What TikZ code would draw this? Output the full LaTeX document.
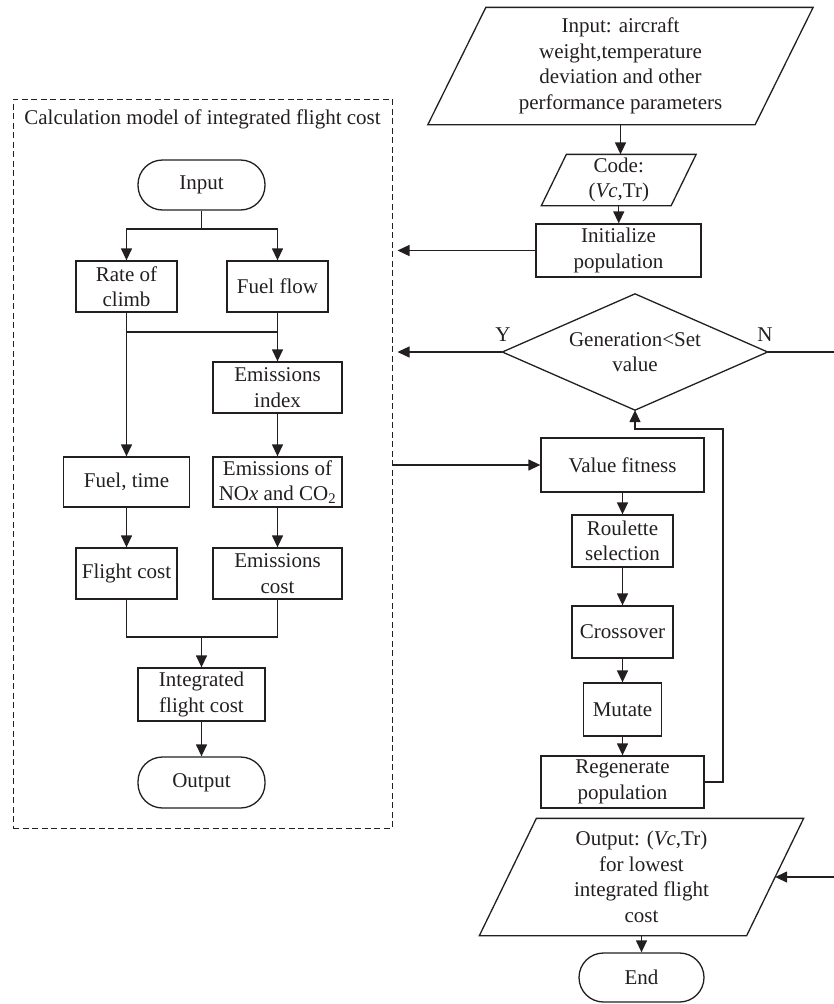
\documentclass[tikz,border=0pt]{standalone}
\usepackage{fontspec}
\setmainfont{Liberation Serif}
\usetikzlibrary{arrows.meta}
\definecolor{ink}{RGB}{35,31,32}
\tikzset{
  base/.style={draw=ink,line width=1.3pt,text=ink,align=center,inner sep=0pt,
    font=\fontsize{21}{25.5}\selectfont},
  box/.style={base,rectangle},
  term/.style={base,rectangle,rounded corners=24.5pt},
  para/.style={base,draw=none,rectangle},
  lbl/.style={text=ink,inner sep=0pt,font=\fontsize{21}{25.5}\selectfont},
  conn/.style={draw=ink,line width=1.3pt},
  arr/.style={conn,-{Triangle[length=12pt,width=11pt]}},
}
\newcommand{\parashape}[2]{%
  \draw[conn] ([xshift=#2]#1.north west) -- ([xshift=#2]#1.north east)
    -- ([xshift=-#2]#1.south east) -- ([xshift=-#2]#1.south west) -- cycle;}
\begin{document}
\begin{tikzpicture}[x=1pt,y=-1pt]
\useasboundingbox (0,0) rectangle (834,1004);

% ---------- left dashed block ----------
\node[draw=ink,line width=1pt,dash pattern=on 6pt off 3.5pt,rectangle,
      minimum width=379pt,minimum height=729pt,inner sep=0pt] (calc) at (202.5,463.5) {};
\node[lbl] (title) at (202.5,119) {Calculation model of integrated flight cost};

\node[term,minimum width=127pt,minimum height=50pt] (lin) at (201.5,185) {Input};
\node[box,minimum width=101pt,minimum height=51pt] (roc) at (126.5,286.5) {Rate of\\climb};
\node[box,minimum width=101pt,minimum height=51pt] (ff) at (277.5,286.5) {Fuel flow};
\node[box,minimum width=129pt,minimum height=51pt] (ei) at (277.5,387.5) {Emissions\\index};
\node[box,minimum width=126pt,minimum height=50pt] (ft) at (126.5,482) {Fuel, time};
\node[box,minimum width=129pt,minimum height=50pt] (em) at (277.5,482) {Emissions of\\NO{\itshape x} and CO\textsubscript{2}};
\node[box,minimum width=101pt,minimum height=51pt] (fc) at (126.5,573.5) {Flight cost};
\node[box,minimum width=129pt,minimum height=51pt] (ec) at (277.5,573.5) {Emissions\\cost};
\node[box,minimum width=127pt,minimum height=53pt] (ifc) at (201.5,694.5) {Integrated\\flight cost};
\node[term,minimum width=127pt,minimum height=51pt] (lout) at (201.5,782.5) {Output};

\coordinate (fork) at (201.5,229);
\coordinate (j1) at (201.5,332);
\coordinate (j2) at (201.5,637);

\draw[conn] (lin.south) -- (fork);
\draw[arr] (fork) -| (roc.north);
\draw[arr] (fork) -| (ff.north);
\draw[conn] (roc.south |- j1) -- (ff.south |- j1);
\draw[arr] (roc.south) -- (ft.north);
\draw[arr] (ff.south) -- (ei.north);
\draw[arr] (ei.south) -- (em.north);
\draw[arr] (ft.south) -- (fc.north);
\draw[arr] (em.south) -- (ec.north);
\draw[conn] (fc.south) |- (j2) -| (ec.south);
\draw[arr] (j2) -- (ifc.north);
\draw[arr] (ifc.south) -- (lout.north);

% ---------- right column ----------
\node[para,minimum width=326pt,minimum height=116pt] (inp) at (620.5,66)
  {Input: aircraft\\weight,temperature\\deviation and other\\performance parameters};
\parashape{inp}{29pt}
\node[para,minimum width=128.5pt,minimum height=50pt] (code) at (618.75,180)
  {Code:\\(\textit{Vc},Tr)};
\parashape{code}{12.5pt}
\node[box,minimum width=165pt,minimum height=53pt] (init) at (618.5,250.5) {Initialize\\population};
\node[para,minimum width=264pt,minimum height=115pt] (gen) at (635,352) {Generation<Set\\value};
\draw[conn] (gen.north) -- (gen.east) -- (gen.south) -- (gen.west) -- cycle;
\node[box,minimum width=163pt,minimum height=54pt] (fit) at (622.5,465) {Value fitness};
\node[box,minimum width=101pt,minimum height=52pt] (rou) at (622.5,541) {Roulette\\selection};
\node[box,minimum width=101pt,minimum height=52pt] (cro) at (622.5,632) {Crossover};
\node[box,minimum width=78pt,minimum height=53pt] (mut) at (622.5,709.5) {Mutate};
\node[box,minimum width=163pt,minimum height=52pt] (reg) at (622.5,782) {Regenerate\\population};
\node[para,minimum width=266pt,minimum height=116pt] (out) at (641.5,877)
  {Output: (\textit{Vc},Tr)\\for lowest\\integrated flight\\cost};
\parashape{out}{28.5pt}
\node[term,minimum width=125pt,minimum height=49pt] (end) at (641.5,977.5) {End};

\node[lbl] (ylab) at (503,335) {Y};
\node[lbl] (nlab) at (765,335) {N};

\coordinate (nend) at (834,352);
\coordinate (nret) at (834,877);
\coordinate (loop) at (723,429);

\draw[arr] (inp.south) -- (inp.south |- code.north);
\draw[arr] (code.south) -- (code.south |- init.north);
\draw[arr,shorten >=5pt] (init.west) -- (init.west -| calc.east);
\draw[arr,shorten >=5pt] (gen.west) -- (gen.west -| calc.east);
\draw[arr] (calc.east |- fit.west) -- (fit.west);
\draw[conn] (gen.east) -- (nend);
\draw[arr] (nret) -- (out.east);
\draw[arr] (fit.south) -- (rou.north);
\draw[arr] (rou.south) -- (cro.north);
\draw[arr] (cro.south) -- (mut.north);
\draw[arr] (mut.south) -- (reg.north);
\draw[arr] (reg.east) -| (loop) -| (gen.south);
\draw[arr] (out.south) -- (end.north);
\end{tikzpicture}
\end{document}
